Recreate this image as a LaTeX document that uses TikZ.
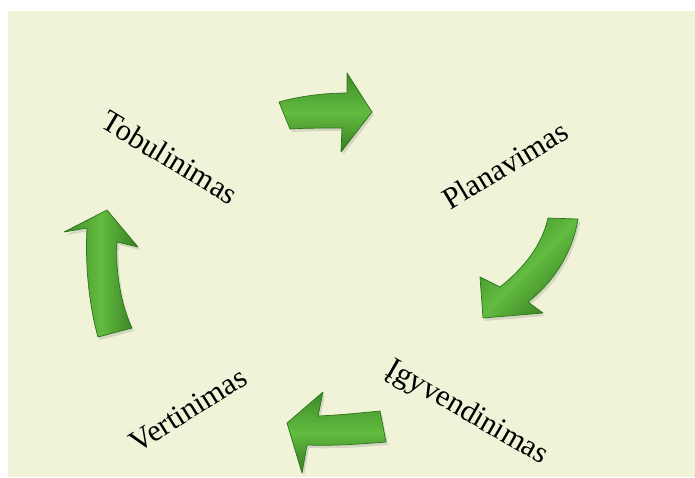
\documentclass[tikz,border=0pt]{standalone}
\usepackage{fontspec}
\setmainfont{Liberation Serif}
\usetikzlibrary{shadows}
\definecolor{bgcream}{RGB}{241,243,217}
\definecolor{arrowlight}{RGB}{98,188,64}
\definecolor{arrowgreen}{RGB}{74,164,46}
\definecolor{arrowdark}{RGB}{40,116,24}

\begin{document}
\begin{tikzpicture}[x=1pt,y=-1pt,
  stage/.style={font=\fontsize{30.5}{33}\selectfont, inner sep=0pt},
  cyclearrow/.style={draw=arrowdark, line width=0.7pt, line join=round,
    top color=arrowgreen!85!black, bottom color=arrowgreen!75!black,
    middle color=arrowlight,
    drop shadow={shadow xshift=2pt, shadow yshift=-3pt, opacity=0.25}}]
  % background
  \useasboundingbox (0,0) rectangle (695,477);
  \fill[bgcream] (8,11) rectangle (695,477);

  % stages
  \node[stage, rotate=-31] (tobul) at (170,157) {Tobulinimas};
  \node[stage, rotate=31] (plan) at (505,165) {Planavimas};
  \node[stage, rotate=-30] (igyv) at (467,413) {Įgyvendinimas};
  \node[stage, rotate=32] (vert) at (188,410) {Vertinimas};

  % arrow to the right (top)
  \path[cyclearrow] (279,102) .. controls (300,96) and (325,93) .. (347,93)
    -- (347,73) -- (372,112) -- (341,152) -- (342,128)
    .. controls (325,128) and (305,128) .. (290,129) -- cycle;

  % arrow down (right)
  \path[cyclearrow, shading angle=45] (548,218) -- (578,219)
    .. controls (573,250) and (556,280) .. (528,302)
    -- (543,313) -- (483,318) -- (480,277) -- (500,287)
    .. controls (524,268) and (542,245) .. cycle;

  % arrow to the left (bottom)
  \path[cyclearrow] (380,411) .. controls (360,413) and (340,415) .. (318,416)
    -- (323,392) -- (287,423) -- (302,473) -- (307,445)
    .. controls (335,446) and (360,444) .. (386,442) -- cycle;

  % arrow up (left)
  \path[cyclearrow, shading angle=90] (98,337)
    .. controls (89,305) and (85,265) .. (87,228)
    -- (64,232) -- (107,210) -- (138,247) -- (117,242)
    .. controls (115,270) and (121,305) .. (132,328) -- cycle;
\end{tikzpicture}
\end{document}
